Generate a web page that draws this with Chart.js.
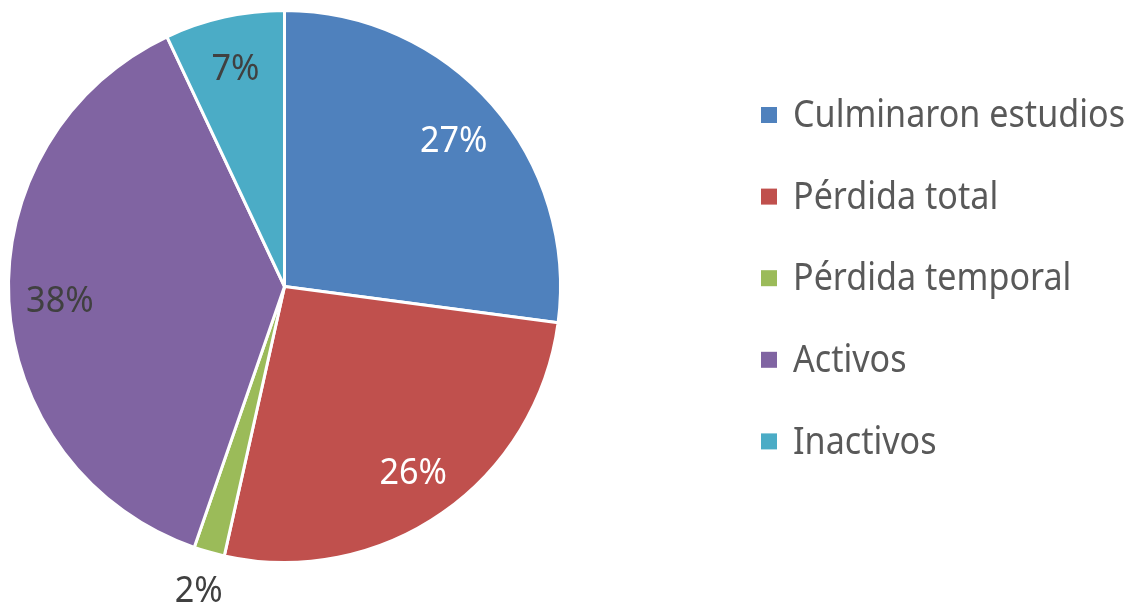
<!DOCTYPE html>
<html>
<head>
<meta charset="utf-8">
<script src="https://cdn.jsdelivr.net/npm/chart.js@4.4.1/dist/chart.umd.min.js"></script>
<style>
html,body{margin:0;padding:0;background:#fff;}
#wrap{width:1132px;height:604px;}
</style>
</head>
<body>
<div id="wrap"><canvas id="c" width="1132" height="604"></canvas></div>
<script>
const categories = ["Culminaron estudios", "Pérdida total", "Pérdida temporal", "Activos", "Inactivos"];
const values = [27.1, 26.4, 1.8, 37.7, 7.0];
const valueLabels = ["27%", "26%", "2%", "38%", "7%"];
const colors = ["#4F81BD", "#C0504D", "#9BBB59", "#8064A2", "#4BACC6"];
const labelColors = ["#FFFFFF", "#FFFFFF", "#404040", "#404040", "#404040"];

const FONT = '"Noto Sans", sans-serif';

const labelPlugin = {
  id: 'sliceLabels',
  afterDatasetsDraw(chart) {
    const ctx = chart.ctx;
    const meta = chart.getDatasetMeta(0);
    ctx.save();
    ctx.font = '36px ' + FONT;
    ctx.textAlign = 'center';
    ctx.textBaseline = 'middle';
    meta.data.forEach((arc, i) => {
      const p = arc.getProps(['x','y','startAngle','endAngle','outerRadius'], true);
      const mid = (p.startAngle + p.endAngle) / 2;
      const small = values[i] < 3;
      const r = small ? p.outerRadius + 38 : p.outerRadius * 0.815;
      const x = p.x + Math.cos(mid) * r;
      const y = p.y + Math.sin(mid) * r + 3;
      ctx.save();
      ctx.translate(x, y);
      ctx.scale(0.95, 1);
      ctx.fillStyle = small ? '#404040' : labelColors[i];
      ctx.fillText(valueLabels[i], 0, 0);
      ctx.restore();
    });
    ctx.restore();
  }
};

const legendPlugin = {
  id: 'sideLegend',
  afterDraw(chart) {
    const ctx = chart.ctx;
    ctx.save();
    ctx.font = '39px ' + FONT;
    ctx.textAlign = 'left';
    ctx.textBaseline = 'middle';
    const x0 = 761, y0 = 115, step = 81.6, box = 16;
    const sx = 332 / ctx.measureText(categories[0]).width;
    categories.forEach((c, i) => {
      const y = y0 + i * step;
      ctx.fillStyle = colors[i];
      ctx.fillRect(x0, y - box / 2, box, box);
      ctx.save();
      ctx.translate(x0 + 32, y + 1);
      ctx.scale(sx, 1);
      ctx.fillStyle = '#595959';
      ctx.fillText(c, 0, 0);
      ctx.restore();
    });
    ctx.restore();
  }
};

new Chart(document.getElementById('c'), {
  type: 'pie',
  data: {
    labels: categories,
    datasets: [{
      data: values,
      backgroundColor: colors,
      borderColor: '#FFFFFF',
      borderWidth: 3
    }]
  },
  options: {
    responsive: false,
    animation: false,
    layout: { padding: { left: 7, top: 9, right: 570, bottom: 40 } },
    plugins: {
      legend: { display: false },
      tooltip: { enabled: false }
    }
  },
  plugins: [labelPlugin, legendPlugin]
});
</script>
</body>
</html>
